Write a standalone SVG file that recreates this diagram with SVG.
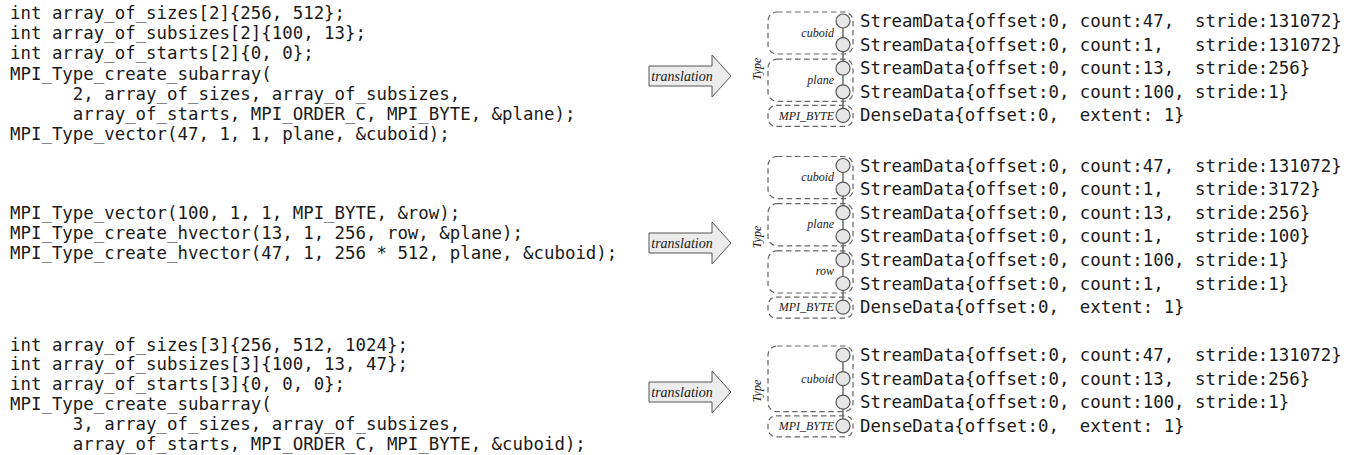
<svg xmlns="http://www.w3.org/2000/svg" width="1361" height="455" viewBox="0 0 1361 455">
  <style>
    .code { font-family: "DejaVu Sans Mono", "Liberation Mono", monospace; font-size: 17.4px; fill: #1a1a1a; }
    .data { font-family: "DejaVu Sans Mono", "Liberation Mono", monospace; font-size: 17.4px; fill: #1a1a1a; }
    .lbl { font-family: "Liberation Serif", serif; font-style: italic; font-size: 12px; fill: #1a1a1a; }
    .arrowtxt { font-family: "Liberation Serif", serif; font-style: italic; font-size: 14px; fill: #1a1a1a; }
    .box { fill: none; stroke: #666; stroke-width: 1.2; stroke-dasharray: 5.5 3.5; }
    .node { fill: #e6e6e6; stroke: #555; stroke-width: 1.2; }
    .link { stroke: #555; stroke-width: 1.3; fill: none; }
    .arrow { fill: #ececec; stroke: #555; stroke-width: 1; }
  </style>

  <!-- source code listings (indented lines start six columns in) -->
  <g id="code-subarray-2d" class="code">
    <text x="10" y="19">int array_of_sizes[2]{256, 512};</text>
    <text x="10" y="39">int array_of_subsizes[2]{100, 13};</text>
    <text x="10" y="59">int array_of_starts[2]{0, 0};</text>
    <text x="10" y="80">MPI_Type_create_subarray(</text>
    <text x="72.8" y="100">2, array_of_sizes, array_of_subsizes,</text>
    <text x="72.8" y="120">array_of_starts, MPI_ORDER_C, MPI_BYTE, &amp;plane);</text>
    <text x="10" y="140">MPI_Type_vector(47, 1, 1, plane, &amp;cuboid);</text>
  </g>
  <g id="code-hvector" class="code">
    <text x="10" y="219">MPI_Type_vector(100, 1, 1, MPI_BYTE, &amp;row);</text>
    <text x="10" y="239">MPI_Type_create_hvector(13, 1, 256, row, &amp;plane);</text>
    <text x="10" y="259">MPI_Type_create_hvector(47, 1, 256 * 512, plane, &amp;cuboid);</text>
  </g>
  <g id="code-subarray-3d" class="code">
    <text x="10" y="350.5">int array_of_sizes[3]{256, 512, 1024};</text>
    <text x="10" y="370.3">int array_of_subsizes[3]{100, 13, 47};</text>
    <text x="10" y="390.1">int array_of_starts[3]{0, 0, 0};</text>
    <text x="10" y="409.9">MPI_Type_create_subarray(</text>
    <text x="72.8" y="429.7">3, array_of_sizes, array_of_subsizes,</text>
    <text x="72.8" y="449.5">array_of_starts, MPI_ORDER_C, MPI_BYTE, &amp;cuboid);</text>
  </g>

  <!-- translation arrows -->
  <g id="arrow-1">
    <polygon class="arrow" points="649,66 712,66 712,55 731,76 712,97 712,86 649,86"/>
    <text class="arrowtxt" x="682" y="80.5" text-anchor="middle">translation</text>
  </g>
  <g id="arrow-2">
    <polygon class="arrow" points="649,233 712,233 712,222 731,243 712,264 712,253 649,253"/>
    <text class="arrowtxt" x="682" y="247.5" text-anchor="middle">translation</text>
  </g>
  <g id="arrow-3">
    <polygon class="arrow" points="649,382 712,382 712,371 731,392 712,413 712,402 649,402"/>
    <text class="arrowtxt" x="682" y="396.5" text-anchor="middle">translation</text>
  </g>

  <!-- connectors between the data nodes -->
  <g id="connectors" class="link">
    <line x1="843" y1="21" x2="843" y2="115.4"/>
    <line x1="843" y1="165.5" x2="843" y2="307.1"/>
    <line x1="843" y1="355" x2="843" y2="425.8"/>
  </g>

  <!-- type tree 1 -->
  <g id="type-tree-1">
    <text class="lbl" transform="translate(761,69) rotate(-90)" text-anchor="middle">Type</text>
    <rect class="box" x="768" y="12" width="85" height="42" rx="9"/>
    <text class="lbl" x="834" y="36.5" text-anchor="end">cuboid</text>
    <rect class="box" x="768" y="59.2" width="85" height="42.1" rx="9"/>
    <text class="lbl" x="834" y="83.7" text-anchor="end">plane</text>
    <rect class="box" x="768" y="105.4" width="85" height="21" rx="8"/>
    <text class="lbl" x="834" y="119.6" text-anchor="end">MPI_BYTE</text>
  </g>
  <g id="nodes-1">
    <circle class="node" cx="843" cy="21" r="7"/>
    <circle class="node" cx="843" cy="44.6" r="7"/>
    <circle class="node" cx="843" cy="68.2" r="7"/>
    <circle class="node" cx="843" cy="91.8" r="7"/>
    <circle class="node" cx="843" cy="115.4" r="7"/>
  </g>
  <g id="data-1" class="data">
    <text x="860" y="27">StreamData{offset:0, count:47,&#160; stride:131072}</text>
    <text x="860" y="50.6">StreamData{offset:0, count:1,&#160;&#160; stride:131072}</text>
    <text x="860" y="74.2">StreamData{offset:0, count:13,&#160; stride:256}</text>
    <text x="860" y="97.8">StreamData{offset:0, count:100, stride:1}</text>
    <text x="860" y="121.4">DenseData{offset:0,&#160; extent: 1}</text>
  </g>

  <!-- type tree 2 -->
  <g id="type-tree-2">
    <text class="lbl" transform="translate(761,237) rotate(-90)" text-anchor="middle">Type</text>
    <rect class="box" x="768" y="156.5" width="85" height="42.1" rx="9"/>
    <text class="lbl" x="834" y="180.8" text-anchor="end">cuboid</text>
    <rect class="box" x="768" y="203.7" width="85" height="42.1" rx="9"/>
    <text class="lbl" x="834" y="228" text-anchor="end">plane</text>
    <rect class="box" x="768" y="250.9" width="85" height="42.1" rx="9"/>
    <text class="lbl" x="834" y="275.2" text-anchor="end">row</text>
    <rect class="box" x="768" y="297.1" width="85" height="21" rx="8"/>
    <text class="lbl" x="834" y="311.3" text-anchor="end">MPI_BYTE</text>
  </g>
  <g id="nodes-2">
    <circle class="node" cx="843" cy="165.5" r="7"/>
    <circle class="node" cx="843" cy="189.1" r="7"/>
    <circle class="node" cx="843" cy="212.7" r="7"/>
    <circle class="node" cx="843" cy="236.3" r="7"/>
    <circle class="node" cx="843" cy="259.9" r="7"/>
    <circle class="node" cx="843" cy="283.5" r="7"/>
    <circle class="node" cx="843" cy="307.1" r="7"/>
  </g>
  <g id="data-2" class="data">
    <text x="860" y="171.5">StreamData{offset:0, count:47,&#160; stride:131072}</text>
    <text x="860" y="195.1">StreamData{offset:0, count:1,&#160;&#160; stride:3172}</text>
    <text x="860" y="218.7">StreamData{offset:0, count:13,&#160; stride:256}</text>
    <text x="860" y="242.3">StreamData{offset:0, count:1,&#160;&#160; stride:100}</text>
    <text x="860" y="265.9">StreamData{offset:0, count:100, stride:1}</text>
    <text x="860" y="289.5">StreamData{offset:0, count:1,&#160;&#160; stride:1}</text>
    <text x="860" y="313.1">DenseData{offset:0,&#160; extent: 1}</text>
  </g>

  <!-- type tree 3 -->
  <g id="type-tree-3">
    <text class="lbl" transform="translate(761,391) rotate(-90)" text-anchor="middle">Type</text>
    <rect class="box" x="768" y="346" width="85" height="65.7" rx="9"/>
    <text class="lbl" x="834" y="382.6" text-anchor="end">cuboid</text>
    <rect class="box" x="768" y="415.8" width="85" height="21" rx="8"/>
    <text class="lbl" x="834" y="430" text-anchor="end">MPI_BYTE</text>
  </g>
  <g id="nodes-3">
    <circle class="node" cx="843" cy="355" r="7"/>
    <circle class="node" cx="843" cy="378.6" r="7"/>
    <circle class="node" cx="843" cy="402.2" r="7"/>
    <circle class="node" cx="843" cy="425.8" r="7"/>
  </g>
  <g id="data-3" class="data">
    <text x="860" y="361">StreamData{offset:0, count:47,&#160; stride:131072}</text>
    <text x="860" y="384.6">StreamData{offset:0, count:13,&#160; stride:256}</text>
    <text x="860" y="408.2">StreamData{offset:0, count:100, stride:1}</text>
    <text x="860" y="431.8">DenseData{offset:0,&#160; extent: 1}</text>
  </g>
</svg>
